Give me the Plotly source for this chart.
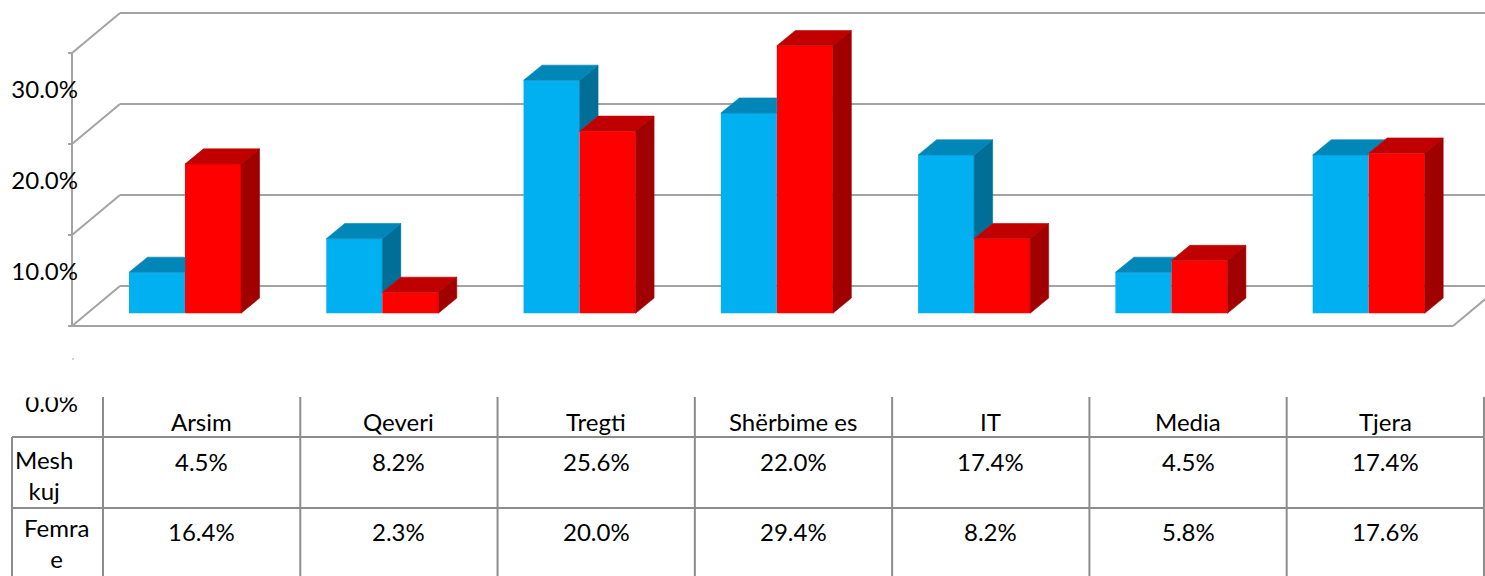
import plotly.graph_objects as go

# ---------------- data ----------------
categories = ["Arsim", "Qeveri", "Tregti", "Shërbime es", "IT", "Media", "Tjera"]
meshkuj = [4.5, 8.2, 25.6, 22.0, 17.4, 4.5, 17.4]
femra = [16.4, 2.3, 20.0, 29.4, 8.2, 5.8, 17.6]
series_labels = ["Mesh<br>kuj", "Femra<br>e"]
y_tick_labels = ["30.0%", "20.0%", "10.0%", "0.0%"]
grid_values = [0, 10, 20, 30]

# ---------------- geometry (pixel calibration) ----------------
W, H = 1485, 576
CAT_PX = 197.28      # pixels per category
X0_PX = 185.0        # pixel of category 0 centre (bar plane)
PX_PER_PCT = 9.1     # pixels per percentage point
ZERO_PY = 313.3      # pixel row of 0 in bar plane


def px_to_x(p):
    return (p - X0_PX) / CAT_PX


def py_to_v(py):
    return (ZERO_PY - py) / PX_PER_PCT


def py_to_paper(py):
    return 1 - py / H


BAR_W = 56 / CAT_PX
DDX = 18.5 / CAT_PX          # bar depth (x)
DDY = 15.2 / PX_PER_PCT      # bar depth (y)
K = DDY / DDX

# walls
X_FRONT_L = px_to_x(72)
X_BACK_L = px_to_x(120)
X_FRONT_R = px_to_x(1453)
X_BACK_R = px_to_x(1453 + 48)
V_FRONT = -12.7 / PX_PER_PCT
V_BACK = 27.3 / PX_PER_PCT

GRID_COLOR = "#A3A3A3"
TABLE_COLOR = "#8C8C8C"
FONT = "Lato"
FS = 24

BLUE, BLUE_TOP, BLUE_SIDE = "#00B0F0", "#0087B8", "#006F98"
RED, RED_TOP, RED_SIDE = "#FF0000", "#C00000", "#A00000"

idx = list(range(len(categories)))

fig = go.Figure()

# front faces
fig.add_trace(go.Bar(x=idx, y=meshkuj, width=BAR_W, offset=-BAR_W,
                     marker=dict(color=BLUE, line=dict(width=0)), hoverinfo="skip",
                     showlegend=False))
fig.add_trace(go.Bar(x=idx, y=femra, width=BAR_W, offset=0,
                     marker=dict(color=RED, line=dict(width=0)), hoverinfo="skip",
                     showlegend=False))


def poly_trace(polys, color):
    xs, ys = [], []
    for p in polys:
        for (a, b) in p:
            xs.append(a)
            ys.append(b)
        xs.append(p[0][0])
        ys.append(p[0][1])
        xs.append(None)
        ys.append(None)
    return go.Scatter(x=xs, y=ys, mode="lines", fill="toself", fillcolor=color,
                      line=dict(color=color, width=0.6), hoverinfo="skip",
                      showlegend=False)


blue_top, blue_side, red_top, red_side = [], [], [], []
for i, vb, vr in zip(idx, meshkuj, femra):
    x0 = i - BAR_W
    top = vb + DDY
    if vr <= vb:
        blue_top.append([(x0, vb), (i, vb), (i + DDX, top), (x0 + DDX, top)])
        blue_side.append([(i, vr), (i + DDX, vr + DDY), (i + DDX, vb + DDY), (i, vb)])
    elif vr >= top:
        blue_top.append([(x0, vb), (i, vb), (i, top), (x0 + DDX, top)])
    else:
        xi = i + (top - vr) / K
        blue_top.append([(x0, vb), (i, vb), (i, vr), (xi, top), (x0 + DDX, top)])
    x1 = i + BAR_W
    red_top.append([(i, vr), (i + DDX, vr + DDY), (x1 + DDX, vr + DDY), (x1, vr)])
    red_side.append([(x1, 0), (x1 + DDX, DDY), (x1 + DDX, vr + DDY), (x1, vr)])

fig.add_trace(poly_trace(blue_side, BLUE_SIDE))
fig.add_trace(poly_trace(blue_top, BLUE_TOP))
fig.add_trace(poly_trace(red_top, RED_TOP))
fig.add_trace(poly_trace(red_side, RED_SIDE))

shapes = []
gl = dict(color=GRID_COLOR, width=2)
for g in grid_values:
    shapes.append(dict(type="line", xref="x", yref="y", layer="below",
                       x0=X_BACK_L, x1=X_BACK_R, y0=g + V_BACK, y1=g + V_BACK, line=gl))
    shapes.append(dict(type="line", xref="x", yref="y", layer="below",
                       x0=X_FRONT_L, x1=X_BACK_L, y0=g + V_FRONT, y1=g + V_BACK, line=gl))
    shapes.append(dict(type="line", xref="x", yref="y", layer="below",
                       x0=X_FRONT_L - 4 / CAT_PX, x1=X_FRONT_L, y0=g + V_FRONT,
                       y1=g + V_FRONT, line=gl))
# front vertical axis
shapes.append(dict(type="line", xref="x", yref="y", layer="below",
                   x0=X_FRONT_L, x1=X_FRONT_L, y0=V_FRONT,
                   y1=grid_values[-1] + V_FRONT, line=gl))
# floor front edge and right diagonal
shapes.append(dict(type="line", xref="x", yref="y", layer="below",
                   x0=X_FRONT_L, x1=X_FRONT_R, y0=V_FRONT, y1=V_FRONT, line=gl))
shapes.append(dict(type="line", xref="x", yref="y", layer="below",
                   x0=X_FRONT_R, x1=X_BACK_R, y0=V_FRONT, y1=V_BACK, line=gl))
# small stray dot below the floor
shapes.append(dict(type="line", xref="x", yref="paper", layer="below",
                   x0=px_to_x(73), x1=px_to_x(73), y0=py_to_paper(358),
                   y1=py_to_paper(360), line=dict(color=GRID_COLOR, width=1)))

# ---------------- data table ----------------
TSHIFT = px_to_x(103) + 0.5
tl = dict(color=TABLE_COLOR, width=2)
n = len(categories)
for i in range(n + 1):
    xb = i - 0.5 + TSHIFT
    shapes.append(dict(type="line", xref="x", yref="paper", x0=xb, x1=xb,
                       y0=py_to_paper(397), y1=py_to_paper(578), line=tl))
x_left = px_to_x(12)
shapes.append(dict(type="line", xref="x", yref="paper", x0=x_left, x1=x_left,
                   y0=py_to_paper(437), y1=py_to_paper(578), line=tl))
for py in (437, 508):
    shapes.append(dict(type="line", xref="x", yref="paper", x0=x_left,
                       x1=n - 0.5 + TSHIFT, y0=py_to_paper(py), y1=py_to_paper(py),
                       line=tl))
# white mask that clips the top of the misplaced "0.0%" label
shapes.append(dict(type="rect", xref="paper", yref="paper", layer="above",
                   x0=5 / W, x1=98 / W, y0=py_to_paper(397.5), y1=py_to_paper(380),
                   fillcolor="white", line=dict(width=0)))

annotations = []
tf = dict(family=FONT, size=FS, color="black")
for i, c in enumerate(categories):
    annotations.append(dict(x=i + TSHIFT, y=py_to_paper(421), xref="x", yref="paper",
                            text=c, showarrow=False, font=tf, xanchor="center",
                            yanchor="middle"))
for row_py, vals in ((461, meshkuj), (531, femra)):
    for i, v in enumerate(vals):
        annotations.append(dict(x=i + TSHIFT, y=py_to_paper(row_py), xref="x",
                                yref="paper", text=f"{v:.1f}%", showarrow=False,
                                font=tf, xanchor="center", yanchor="middle"))
for lab, cx, cy in zip(series_labels, (44, 57), (475, 543)):
    annotations.append(dict(x=cx / W, y=py_to_paper(cy), xref="paper", yref="paper",
                            text=lab, showarrow=False, font=tf, xanchor="center",
                            yanchor="middle", align="center"))

label_py = [90, 181, 272, 404]

fig.update_layout(
    width=W, height=H, autosize=False,
    margin=dict(l=0, r=0, t=0, b=0),
    paper_bgcolor="white", plot_bgcolor="white",
    barmode="overlay",
    showlegend=False,
    xaxis=dict(range=[px_to_x(0), px_to_x(W)], showgrid=False, zeroline=False,
               showticklabels=False, showline=False, fixedrange=True),
    yaxis=dict(range=[py_to_v(H), py_to_v(0)], showgrid=False, zeroline=False,
               showline=False, anchor="free", position=78 / W,
               tickvals=[py_to_v(p) for p in label_py], ticktext=y_tick_labels,
               ticks="", tickfont=tf, fixedrange=True),
    shapes=shapes,
    annotations=annotations,
)

fig.write_html("out.html", config={"displayModeBar": False},
               post_script="document.body.style.margin='0';")
